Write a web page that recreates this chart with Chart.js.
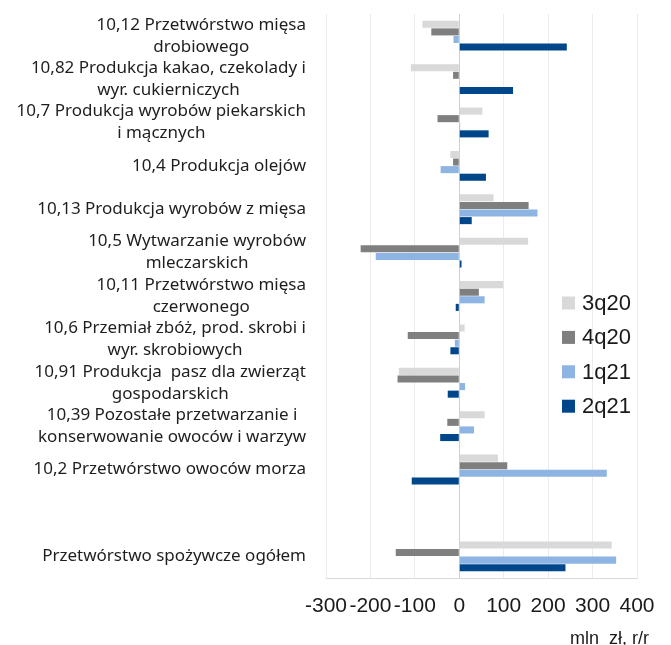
<!DOCTYPE html>
<html>
<head>
<meta charset="utf-8">
<script src="https://cdn.jsdelivr.net/npm/chart.js@4.4.0/dist/chart.umd.min.js"></script>
<style>
  html, body { margin: 0; padding: 0; background: #fff; }
  #wrap { width: 671px; height: 645px; }
</style>
</head>
<body>
<div id="wrap"><canvas id="foodChart" width="671" height="645"></canvas></div>
<script>
// Zmiana przychodów w branżach przetwórstwa spożywczego, mln zł r/r

const categories = [
    ['10,12 Przetwórstwo mięsa', 'drobiowego'],
    ['10,82 Produkcja kakao, czekolady i', 'wyr. cukierniczych'],
    ['10,7 Produkcja wyrobów piekarskich', 'i mącznych'],
    ['10,4 Produkcja olejów'],
    ['10,13 Produkcja wyrobów z mięsa'],
    ['10,5 Wytwarzanie wyrobów', 'mleczarskich'],
    ['10,11 Przetwórstwo mięsa', 'czerwonego'],
    ['10,6 Przemiał zbóż, prod. skrobi i', 'wyr. skrobiowych'],
    ['10,91 Produkcja  pasz dla zwierząt', 'gospodarskich'],
    ['10,39 Pozostałe przetwarzanie i', 'konserwowanie owoców i warzyw'],
    ['10,2 Przetwórstwo owoców morza'],
    [''],
    ['Przetwórstwo spożywcze ogółem']
];

const seriesNames = ['3q20', '4q20', '1q21', '2q21'];

const q3_20 = [-83, -109, 52, -20, 77, 155, 99, 12, -136, 57, 87, null, 343];
const q4_20 = [-63, -14, -49, -14, 156, -222, 44, -116, -139, -27, 108, null, -143];
const q1_21 = [-13, 0, 2, -42, 176, -188, 57, -10, 13, 33, 332, null, 353];
const q2_21 = [242, 121, 66, 60, 28, 5, -8, -20, -26, -43, -107, null, 239];

const xTicks = [-300, -200, -100, 0, 100, 200, 300, 400];
const unitLabel = 'mln  zł, r/r';

const colors = ['#d9d9d9', '#7f7f7f', '#8db4e2', '#00468b'];

const labelFont = '17px "Noto Sans", sans-serif';
const tickFont = 'Liberation Sans';

// etykiety kategorii: blok wyrównany do prawej, linie wyśrodkowane w bloku
const categoryLabels = {
    id: 'categoryLabels',
    afterDraw(chart) {
        const ctx = chart.ctx;
        const y = chart.scales.y;
        const rightEdge = chart.chartArea.left - 20;
        const lineH = 22;
        ctx.save();
        ctx.font = labelFont;
        ctx.fillStyle = '#1e1e1e';
        ctx.textBaseline = 'middle';
        ctx.textAlign = 'center';
        categories.forEach((lines, i) => {
            const cy = y.getPixelForValue(i);
            const widths = lines.map(l => ctx.measureText(l).width);
            const blockW = Math.max(...widths);
            const cx = rightEdge - blockW / 2;
            const startY = cy - (lines.length - 1) * lineH / 2;
            lines.forEach((l, j) => ctx.fillText(l, cx, startY + j * lineH));
        });
        ctx.restore();
    }
};

// legenda w obszarze wykresu + jednostka
const sideLegend = {
    id: 'sideLegend',
    afterDraw(chart) {
        const ctx = chart.ctx;
        ctx.save();
        ctx.font = '22px "' + tickFont + '", sans-serif';
        ctx.textBaseline = 'middle';
        ctx.textAlign = 'left';
        const x0 = 562, y0 = 303, step = 34.4, box = 13;
        seriesNames.forEach((name, i) => {
            const cy = y0 + i * step;
            ctx.fillStyle = colors[i];
            ctx.fillRect(x0, cy - box / 2, box, box);
            ctx.fillStyle = '#1a1a1a';
            ctx.fillText(name, x0 + 20, cy + 1);
        });
        ctx.font = '18px "' + tickFont + '", sans-serif';
        ctx.textAlign = 'right';
        ctx.textBaseline = 'alphabetic';
        ctx.fillText(unitLabel, 649, 644);
        ctx.restore();
    }
};

const ctx = document.getElementById('foodChart').getContext('2d');

new Chart(ctx, {
    type: 'bar',
    data: {
        labels: categories,
        datasets: [q3_20, q4_20, q1_21, q2_21].map((vals, i) => ({
            label: seriesNames[i],
            data: vals,
            backgroundColor: colors[i],
            borderWidth: 0,
            categoryPercentage: 0.7,
            barPercentage: 0.93
        }))
    },
    options: {
        indexAxis: 'y',
        responsive: false,
        animation: false,
        devicePixelRatio: 1,
        layout: {
            padding: { top: 14, right: 34, left: 0, bottom: 0 }
        },
        plugins: {
            legend: { display: false },
            tooltip: { enabled: false }
        },
        scales: {
            y: {
                ticks: { display: false },
                grid: { display: false },
                border: { display: false },
                afterFit: (s) => { s.width = 326; }
            },
            x: {
                min: xTicks[0],
                max: xTicks[xTicks.length - 1],
                afterBuildTicks: (s) => { s.ticks = xTicks.map(v => ({ value: v })); },
                ticks: {
                    color: '#1a1a1a',
                    font: { family: tickFont, size: 21 },
                    padding: 16,
                    maxRotation: 0,
                    autoSkip: false
                },
                grid: {
                    drawTicks: false,
                    color: (c) => c.tick && c.tick.value === 0 ? '#d0d0d0' : '#ececec',
                    lineWidth: 1
                },
                border: { color: '#d9d9d9' },
                afterFit: (s) => { s.height = 67; }
            }
        }
    },
    plugins: [categoryLabels, sideLegend]
});
</script>
</body>
</html>
